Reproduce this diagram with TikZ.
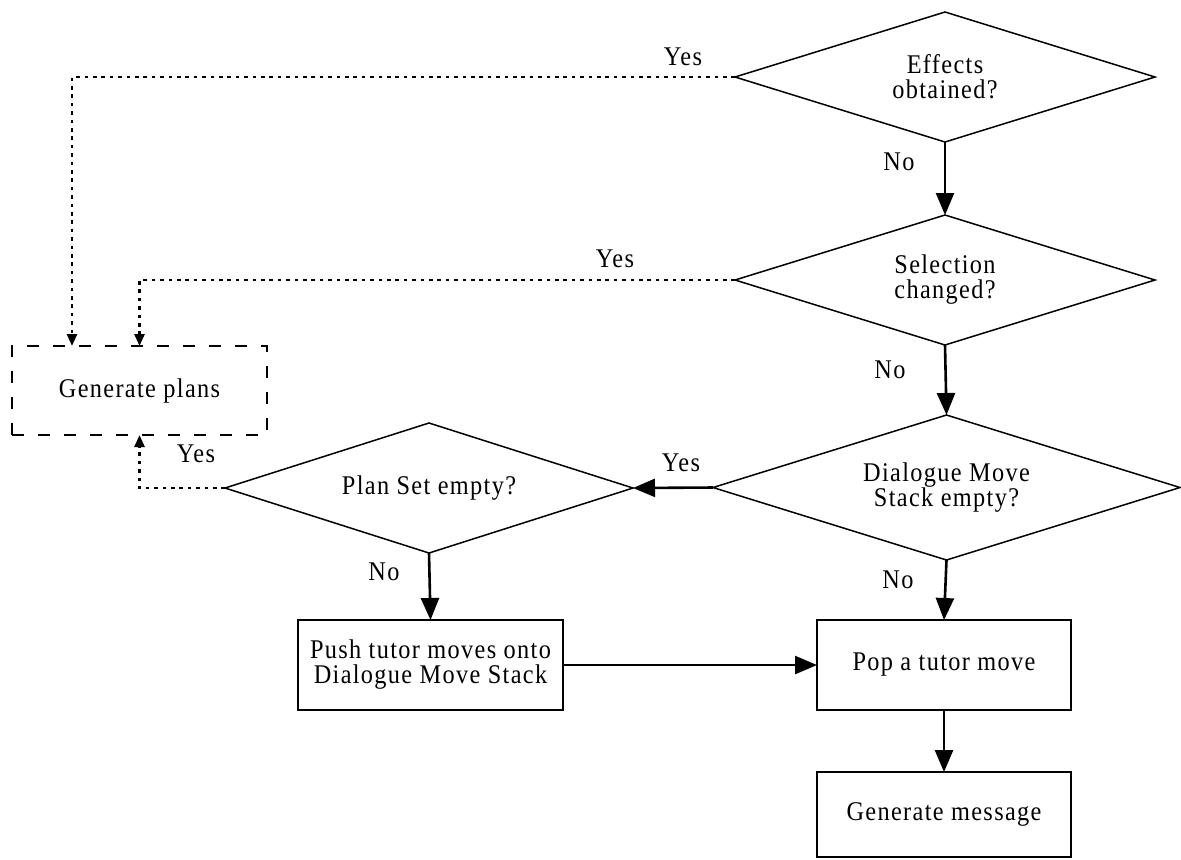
\documentclass[tikz,border=0pt]{standalone}
\usepackage{fontspec}
\setmainfont{Liberation Serif}[LetterSpace=5,FakeStretch=0.9]
\usetikzlibrary{shapes.geometric,arrows.meta}
\tikzset{
  txt/.style={font=\fontsize{13.5}{12.5}\selectfont},
  dia/.style={diamond,aspect=3.2,draw,line width=0.75pt,inner sep=0pt,outer sep=0pt,align=center,txt},
  stepbox/.style={rectangle,draw,line width=0.75pt,inner sep=0pt,outer sep=0pt,align=center,txt},
  solidarrow/.style={line width=1.3pt,-{Triangle[length=11pt,width=9pt]}},
  dotarrow/.style={line width=1.3pt,dash pattern=on 1.8pt off 2.4pt,-{Triangle[length=6pt,width=5pt]}},
  lbl/.style={txt,inner sep=0pt}
}
\begin{document}
\begin{tikzpicture}[x=0.5pt,y=-0.5pt]
\useasboundingbox (0,0) rectangle (1181,859);
\node[dia,minimum width=210pt,minimum height=65pt] (eff) at (945,77) {Effects\\obtained?};
\node[dia,minimum width=210pt,minimum height=65pt] (sel) at (945,280) {Selection\\changed?};
\node[dia,minimum width=233.5pt,minimum height=72.5pt] (dms) at (946.5,487.5) {Dialogue Move\\Stack empty?};
\node[dia,minimum width=204pt,minimum height=65pt] (plan) at (429,488) {Plan Set empty?};
\node[stepbox,dashed,dash pattern=on 6pt off 7pt,minimum width=127.5pt,minimum height=44.5pt] (gp) at (139.5,390.5) {Generate plans};
\node[stepbox,minimum width=132.5pt,minimum height=45pt] (push) at (430.5,665) {Push tutor moves onto\\Dialogue Move Stack};
\node[stepbox,minimum width=127pt,minimum height=45pt] (pop) at (944,665) {Pop a tutor move};
\node[stepbox,minimum width=127pt,minimum height=42.5pt] (msg) at (944,814.5) {Generate message};

\draw[solidarrow] (eff.south) -- (sel.north);
\draw[solidarrow] (sel.south) -- (dms.north);
\draw[solidarrow] (dms.west) -- (plan.east);
\draw[solidarrow] (dms.south) -- (pop.north);
\draw[solidarrow] (plan.south) -- (push.north);
\draw[solidarrow] (push.east) -- (pop.west);
\draw[solidarrow] (pop.south) -- (msg.north);

\draw[dotarrow] (eff.west) -| ([xshift=-33.75pt]gp.north);
\draw[dotarrow] (sel.west) -| (gp.north);
\draw[dotarrow] (plan.west) -| (gp.south);

\node[lbl] (l1) at (683,57) {Yes};
\node[lbl] (l2) at (615,259) {Yes};
\node[lbl] (l3) at (899,162) {No};
\node[lbl] (l4) at (890,370) {No};
\node[lbl] (l5) at (196,454) {Yes};
\node[lbl] (l6) at (681,463) {Yes};
\node[lbl] (l7) at (384,572) {No};
\node[lbl] (l8) at (898,580) {No};
\end{tikzpicture}
\end{document}
